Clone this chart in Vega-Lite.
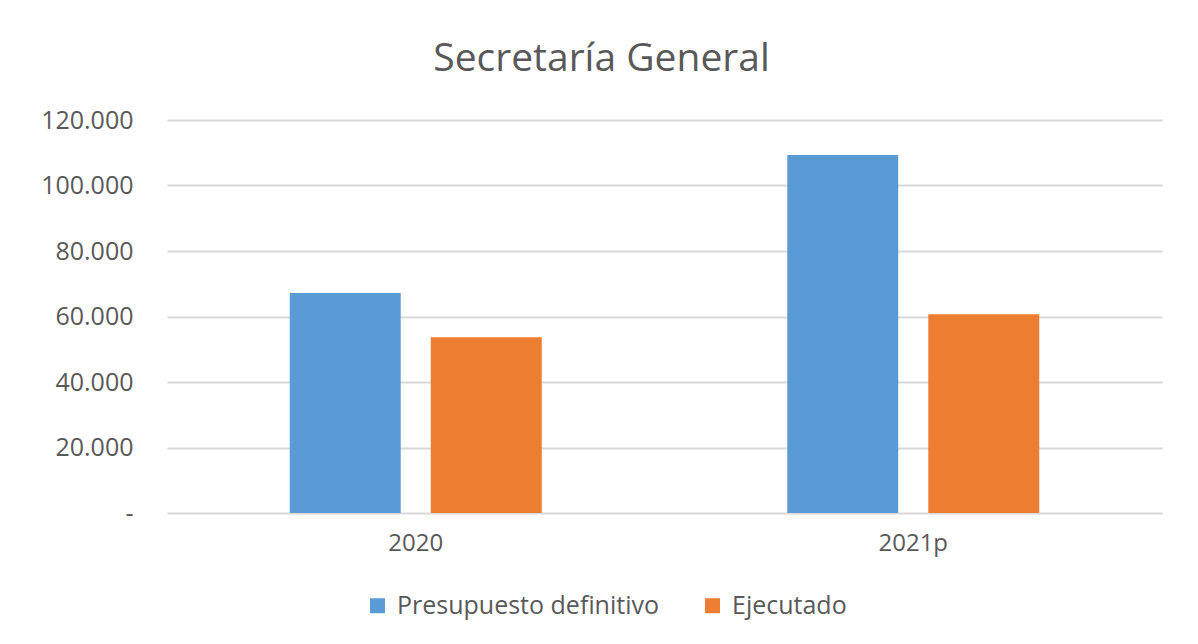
{
  "$schema": "https://vega.github.io/schema/vega-lite/v6.json",
  "width": 995,
  "height": 393,
  "autosize": {"type": "none"},
  "padding": {"left": 167, "top": 120, "right": 36, "bottom": 131},
  "background": "white",
  "title": {
    "text": "Secretaría General",
    "frame": "group",
    "anchor": "middle",
    "dx": -63,
    "offset": 29,
    "fontSize": 39,
    "font": "Open Sans",
    "fontWeight": "normal",
    "color": "#595959"
  },
  "data": {
    "values": [
      {"year": "2020", "serie": "Presupuesto definitivo", "valor": 67200},
      {"year": "2020", "serie": "Ejecutado", "valor": 53700},
      {"year": "2021p", "serie": "Presupuesto definitivo", "valor": 109300},
      {"year": "2021p", "serie": "Ejecutado", "valor": 60700}
    ]
  },
  "mark": {"type": "bar"},
  "encoding": {
    "x": {
      "field": "year",
      "type": "nominal",
      "scale": {"paddingInner": 0.4935, "paddingOuter": 0.2467},
      "axis": {
        "title": null,
        "labelAngle": 0,
        "labelFontSize": 24,
        "labelFont": "Open Sans",
        "labelColor": "#595959",
        "labelPadding": 18,
        "ticks": false,
        "domain": false
      }
    },
    "xOffset": {
      "field": "serie",
      "type": "nominal",
      "sort": ["Presupuesto definitivo", "Ejecutado"],
      "scale": {"paddingInner": 0.213, "paddingOuter": 0}
    },
    "y": {
      "field": "valor",
      "type": "quantitative",
      "scale": {"domain": [0, 120000], "nice": false},
      "axis": {
        "title": null,
        "values": [0, 20000, 40000, 60000, 80000, 100000, 120000],
        "labelExpr": "datum.value == 0 ? '-' : replace(format(datum.value, ','), ',', '.')",
        "labelFontSize": 25,
        "labelFont": "Open Sans",
        "labelColor": "#595959",
        "labelPadding": 34,
        "ticks": false,
        "domain": false,
        "gridColor": "#d9d9d9",
        "gridWidth": 2
      }
    },
    "color": {
      "field": "serie",
      "type": "nominal",
      "sort": ["Presupuesto definitivo", "Ejecutado"],
      "scale": {"domain": ["Presupuesto definitivo", "Ejecutado"], "range": ["#5B9BD5", "#ED7D31"]},
      "legend": {
        "title": null,
        "orient": "none",
        "direction": "horizontal",
        "legendX": 198,
        "legendY": 473,
        "symbolType": "square",
        "symbolSize": 225,
        "symbolStrokeWidth": 0,
        "symbolOpacity": 1,
        "labelFontSize": 25,
        "labelFont": "Open Sans",
        "labelColor": "#595959",
        "labelOffset": 7,
        "columnPadding": 40,
        "labelLimit": 400
      }
    }
  },
  "config": {
    "view": {"stroke": null}
  }
}
